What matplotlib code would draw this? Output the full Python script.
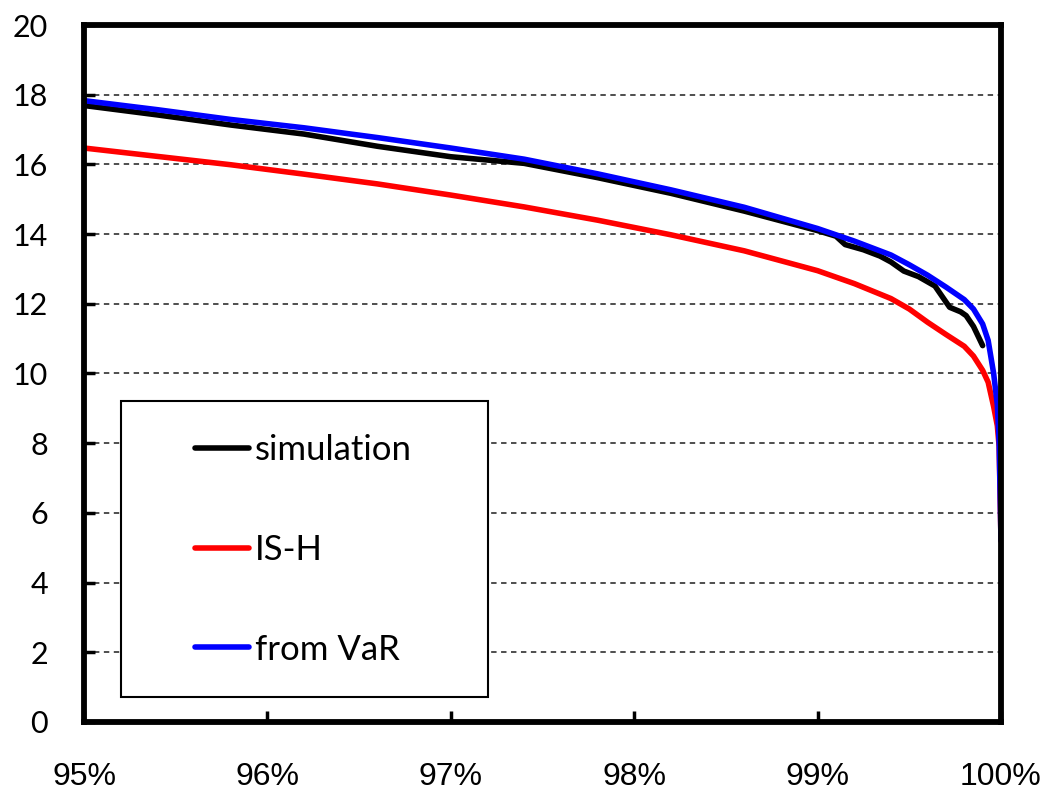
import matplotlib
matplotlib.use('Agg')
import matplotlib.pyplot as plt
from matplotlib.patches import Rectangle
from matplotlib.ticker import FuncFormatter
import numpy as np

# 信頼水準 (%)
level = [95.0, 95.4, 95.8, 96.2, 96.6, 97.0, 97.4, 97.8, 98.2, 98.6, 99.0, 99.2,
         99.4, 99.5, 99.6, 99.7, 99.8, 99.85, 99.9, 99.93, 99.96, 99.98, 99.99, 100.0]

from_var = [17.83, 17.57, 17.29, 17.05, 16.77, 16.47, 16.15, 15.73, 15.27, 14.77, 14.16, 13.80,
            13.40, 13.12, 12.82, 12.48, 12.12, 11.85, 11.42, 10.95, 10.0, 9.1, 8.0, 5.2]

is_h = [16.47, 16.23, 15.99, 15.72, 15.44, 15.12, 14.78, 14.40, 13.98, 13.52, 12.95, 12.58,
        12.15, 11.85, 11.47, 11.12, 10.78, 10.5, 10.09, 9.75, 9.05, 8.5, 7.9, 5.2]

# simulation は裾でギザギザ
sim_level = [95.0, 95.4, 95.8, 96.2, 96.6, 97.0, 97.4, 97.8, 98.2, 98.6, 99.0, 99.1,
             99.15, 99.25, 99.34, 99.4, 99.47, 99.55, 99.64, 99.72, 99.78, 99.81, 99.85, 99.9]
simulation = [17.69, 17.42, 17.13, 16.87, 16.52, 16.22, 16.03, 15.62, 15.17, 14.66, 14.10, 13.94,
              13.70, 13.55, 13.37, 13.20, 12.94, 12.78, 12.51, 11.90, 11.77, 11.66, 11.35, 10.8]

x_ticks = [95, 96, 97, 98, 99, 100]
y_ticks = [0, 2, 4, 6, 8, 10, 12, 14, 16, 18, 20]

labels = ['simulation', 'IS-H', 'from VaR']


fig = plt.figure(figsize=(10.44, 7.99), dpi=100)
ax = fig.add_axes([0.0805, 0.0964, 0.8783, 0.8723])

lw = 4.0
ax.plot(sim_level, simulation, color='#000000', lw=lw, label=labels[0], solid_capstyle='round')
ax.plot(level, is_h, color='#ff0000', lw=lw, label=labels[1], solid_capstyle='round')
ax.plot(level, from_var, color='#0000ff', lw=lw, label=labels[2], solid_capstyle='round')

ax.set_xlim(95, 100)
ax.set_ylim(0, 20)
ax.set_xticks(x_ticks)
ax.set_yticks(y_ticks)
ax.xaxis.set_major_formatter(FuncFormatter(lambda v, p: '{:.0f}%'.format(v)))

# 点線のグリッド
ax.yaxis.grid(True, color='#404040', lw=1.3, linestyle=(0, (3.0, 2.5)))
ax.set_axisbelow(True)

for s in ax.spines.values():
    s.set_linewidth(4.2)
    s.set_color('black')

ax.tick_params(axis='both', direction='in', length=8, width=2.5, color='black')
ax.tick_params(axis='y', pad=26, labelsize=22, labelfontfamily='Lato')
ax.tick_params(axis='x', pad=29, labelsize=23, labelfontfamily='Liberation Sans')

# 凡例の枠は別に描く
box = Rectangle((0.0403, 0.0359), 0.4003, 0.4247, transform=ax.transAxes,
                facecolor='white', edgecolor='black', lw=1.5, zorder=4.5)
ax.add_patch(box)

leg = ax.legend(loc='center left', bbox_to_anchor=(0.121, 0.247), frameon=False,
                borderpad=0, borderaxespad=0, handlelength=1.55, handletextpad=0.18,
                labelspacing=1.95, prop={'family': ['Lato', 'DejaVu Sans'], 'size': 25})
leg.set_zorder(5)
for h in leg.get_lines():
    h.set_linewidth(lw)

fig.savefig('out.png', dpi=100)
